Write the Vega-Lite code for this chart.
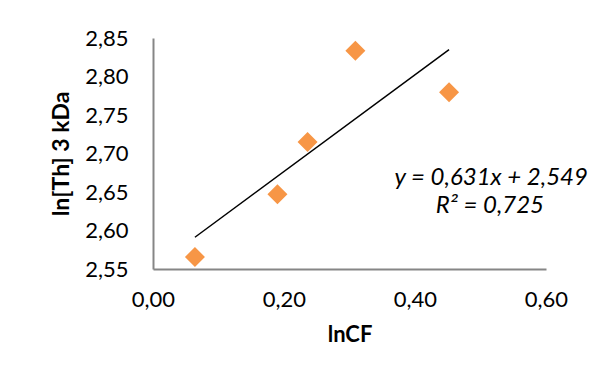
{
  "$schema": "https://vega.github.io/schema/vega-lite/v6.json",
  "autosize": {"type": "none"},
  "width": 393,
  "height": 231,
  "padding": {"left": 153, "top": 38, "right": 53, "bottom": 118},
  "background": "white",
  "config": {
    "view": {"stroke": null},
    "font": "Lato",
    "axis": {"labelOverlap": false, "labelFlush": false}
  },
  "data": {
    "values": [
      {"lnCF": 0.064, "lnTh": 2.5656},
      {"lnCF": 0.190, "lnTh": 2.647},
      {"lnCF": 0.236, "lnTh": 2.715},
      {"lnCF": 0.309, "lnTh": 2.8335},
      {"lnCF": 0.452, "lnTh": 2.7795}
    ]
  },
  "encoding": {
    "x": {
      "field": "lnCF", "type": "quantitative",
      "scale": {"domain": [0, 0.6], "nice": false, "zero": false},
      "axis": {
        "values": [0, 0.2, 0.4, 0.6],
        "labelExpr": "replace(format(datum.value, '.2f'), '.', ',')",
        "grid": false, "ticks": false,
        "labelFlush": false, "labelOverlap": false,
        "domainColor": "#868686", "domainWidth": 2,
        "labelFontSize": 22, "labelColor": "black", "labelPadding": 20,
        "title": "lnCF", "titleFontSize": 22, "titleFontWeight": "bold", "titleColor": "black", "titlePadding": 14
      }
    },
    "y": {
      "field": "lnTh", "type": "quantitative",
      "scale": {"domain": [2.55, 2.85], "nice": false, "zero": false},
      "axis": {
        "values": [2.55, 2.6, 2.65, 2.7, 2.75, 2.8, 2.85],
        "labelExpr": "replace(format(datum.value, '.2f'), '.', ',')",
        "grid": false, "ticks": false,
        "labelFlush": false, "labelOverlap": false,
        "domainColor": "#868686", "domainWidth": 2,
        "labelFontSize": 22, "labelColor": "black", "labelPadding": 25,
        "title": "ln[Th] 3 kDa", "titleFontSize": 23, "titleFontWeight": "bold", "titleColor": "black", "titlePadding": 11
      }
    }
  },
  "layer": [
    {
      "transform": [{"regression": "lnTh", "on": "lnCF"}],
      "mark": {"type": "line", "color": "black", "strokeWidth": 1.5}
    },
    {
      "mark": {"type": "point", "shape": "diamond", "filled": true, "color": "#F79646", "size": 400, "opacity": 1}
    },
    {
      "transform": [{"filter": "datum.lnCF < 0.1"}],
      "mark": {"type": "text", "align": "right", "baseline": "alphabetic", "fontSize": 24, "font": "Lato", "fontStyle": "italic", "fontWeight": 400, "color": "black", "clip": false},
      "encoding": {
        "x": {"datum": 0.664},
        "y": {"datum": 2.659},
        "text": {"value": "y = 0,631x + 2,549"}
      }
    },
    {
      "transform": [{"filter": "datum.lnCF < 0.1"}],
      "mark": {"type": "text", "align": "right", "baseline": "alphabetic", "fontSize": 24, "font": "Lato", "fontStyle": "italic", "fontWeight": 400, "color": "black", "clip": false},
      "encoding": {
        "x": {"datum": 0.597},
        "y": {"datum": 2.623},
        "text": {"value": "R² = 0,725"}
      }
    }
  ]
}
